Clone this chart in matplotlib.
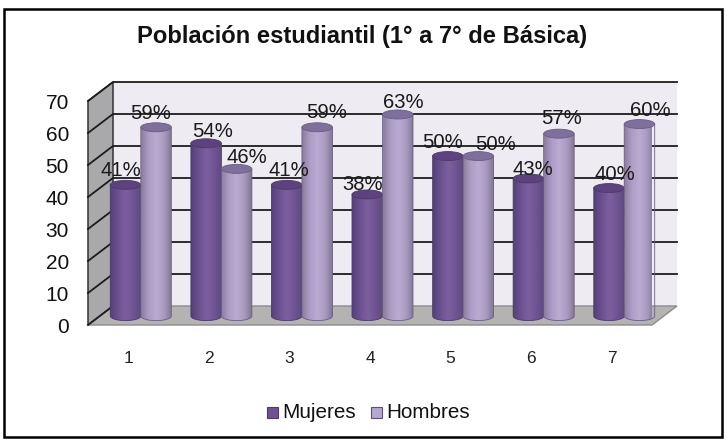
import numpy as np
import matplotlib
matplotlib.use("Agg")
import matplotlib.pyplot as plt
from matplotlib.colors import LinearSegmentedColormap
from matplotlib.patches import Ellipse, PathPatch, Polygon, Rectangle
from matplotlib.path import Path

plt.rcParams['font.family'] = ['Liberation Sans', 'DejaVu Sans']

# --------------------------------------------------
# DATA
# --------------------------------------------------

title = "Población estudiantil (1° a 7° de Básica)"
categories = ["1", "2", "3", "4", "5", "6", "7"]
mujeres = [41, 54, 41, 38, 50, 43, 40]
hombres = [59, 46, 59, 63, 50, 57, 60]
y_ticks = [0, 10, 20, 30, 40, 50, 60, 70]
series_names = ["Mujeres", "Hombres"]

# label nudges, in pixels, relative to the top of each column
mujeres_nudge = [(-5, 14), (6, 12), (2, 14), (-5, 10), (-5, 14), (4, 9), (6, 14)]
hombres_nudge = [(-5, 14), (10, 11), (9, 15), (6, 12), (17, 12), (3, 15), (11, 14)]

# --------------------------------------------------
# FIGURE AND AXES
# --------------------------------------------------

W, H = 727, 440
fig = plt.figure(figsize=(W / 100, H / 100), dpi=100)

# the axes span the front edge of the floor and the front of the value scale
left, right, bottom, top = 88, 652, 325, 101
ax = fig.add_axes([left / W, 1 - bottom / H, (right - left) / W, (bottom - top) / H])
ax.set_xlim(0, len(categories))
ax.set_ylim(0, 70)
ax.axis("off")

px_x = len(categories) / (right - left)
px_y = 70 / (bottom - top)
depth_x = 25 * px_x
depth_y = 19 * px_y


def draw_frame():
    fig.add_artist(Rectangle((4 / W, 1 - 437 / H), 718 / W, 428 / H,
                             transform=fig.transFigure, fill=False,
                             edgecolor="black", linewidth=1.8))


def draw_walls():
    ymax = y_ticks[-1]
    n = len(categories)
    back = Rectangle((depth_x, depth_y), n, ymax, facecolor="#eeebf2",
                     edgecolor="none", clip_on=False, zorder=1)
    side = Polygon([(0, 0), (depth_x, depth_y), (depth_x, ymax + depth_y), (0, ymax)],
                   facecolor="#a9a9ab", edgecolor="#333333", linewidth=1.1,
                   clip_on=False, zorder=2)
    floor = Polygon([(0, 0), (n, 0), (n + depth_x, depth_y), (depth_x, depth_y)],
                    facecolor="#b4b3b1", edgecolor="#8c8c8c", linewidth=1.0,
                    clip_on=False, zorder=2)
    ax.add_patch(back)
    ax.add_patch(side)
    ax.add_patch(floor)
    ax.plot([0, depth_x], [0, depth_y], color="#1c1c1c", linewidth=1.3,
            clip_on=False, zorder=3)
    for v in y_ticks[1:]:
        ax.plot([0, depth_x, depth_x + n], [v, v + depth_y, v + depth_y],
                color="#1c1c1c", linewidth=1.3, clip_on=False, zorder=3)


def draw_cylinder(x_left, width, value, cmap, top_color, edge_color, z):
    base = depth_y * 0.47
    x = [x_left, x_left + width]
    ry = 4.5 * px_y
    y0, y1 = base, base + value
    t = np.linspace(0, np.pi, 40)
    xc = x_left + width / 2
    # outline: lower half of the base ellipse, then across the top
    xs = xc - width / 2 * np.cos(t)
    ys = y0 - ry * np.sin(t)
    verts = list(zip(xs, ys)) + [(x[1], y1), (x[0], y1), (x[0], y0)]
    body = PathPatch(Path(verts), facecolor="none", edgecolor=edge_color,
                     linewidth=0.6, clip_on=False, zorder=z + 0.1)
    ax.add_patch(body)
    gradient = np.linspace(0, 1, 128).reshape(1, -1)
    im = ax.imshow(gradient, extent=(x[0], x[1], y0 - ry, y1), cmap=cmap,
                   aspect="auto", zorder=z)
    im.set_clip_path(body)
    cap = Ellipse((xc, y1), width, 2 * ry, facecolor=top_color,
                  edgecolor=edge_color, linewidth=0.6, clip_on=False, zorder=z + 0.2)
    ax.add_patch(cap)


def draw_columns():
    width = 30.5 * px_x
    dark = LinearSegmentedColormap.from_list(
        "dark", ["#54407a", "#6c5090", "#7d5f9f", "#6f5493", "#5f4a80"])
    light = LinearSegmentedColormap.from_list(
        "light", ["#8a7d9d", "#ad9dc6", "#b9abd2", "#a99bc0", "#807590"])
    for i in range(len(categories)):
        centre = i + 0.5 + depth_x / 2
        draw_cylinder(centre - width, width, mujeres[i], dark, "#5c437f", "#4b3a66", 4 + i)
        draw_cylinder(centre, width, hombres[i], light, "#7f6f9c", "#6a5d80", 4.5 + i)
    base = depth_y * 0.47
    for i in range(len(categories)):
        centre = i + 0.5 + depth_x / 2
        for value, nudge, xc in [(mujeres[i], mujeres_nudge[i], centre - width / 2),
                                 (hombres[i], hombres_nudge[i], centre + width / 2)]:
            ax.text(xc + nudge[0] * px_x, base + value + nudge[1] * px_y, f"{value}%",
                    ha="center", va="center", fontsize=14.6, color="#1a1a1a", zorder=20)


def draw_text():
    for i, c in enumerate(categories):
        ax.text(i + 0.5, -33 * px_y, c, ha="center", va="center", fontsize=12.5,
                color="#222222")
    for v in y_ticks:
        ax.text(-19 * px_x, v, str(v), ha="right", va="center_baseline", fontsize=15,
                color="#111111", clip_on=False)
    fig.text(362 / W, 1 - 37 / H, title, ha="center", va="center", fontsize=17.1,
             fontweight="bold", color="#111111")
    # legend
    y = 1 - 412 / H
    for x, name, color, edge in [(267, series_names[0], "#6e5293", "#4b3a66"),
                                 (371, series_names[1], "#b5a7cf", "#5d5075")]:
        fig.add_artist(Rectangle((x / W, y - 5.5 / H), 11 / W, 11 / H, facecolor=color,
                                 edgecolor=edge, linewidth=0.8,
                                 transform=fig.transFigure))
        fig.text((x + 15) / W, y, name, ha="left", va="center", fontsize=14.9, color="#111111")


draw_frame()
draw_walls()
draw_columns()
draw_text()

fig.savefig("out.png", dpi=100)
